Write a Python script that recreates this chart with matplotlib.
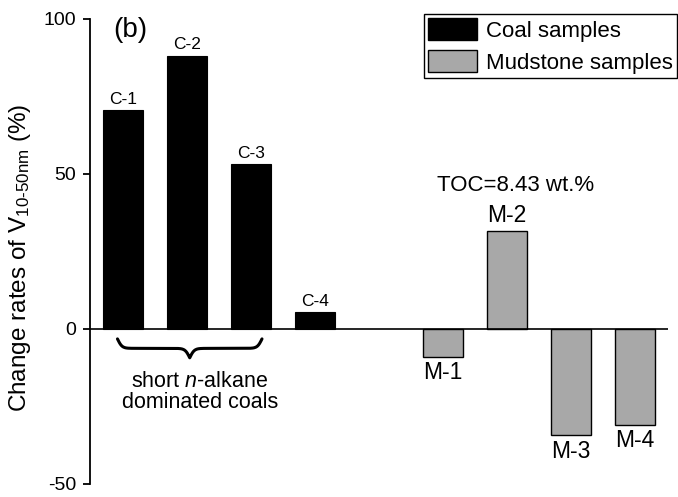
import numpy as np
import matplotlib.pyplot as plt
from matplotlib.patches import Patch

plt.rcParams['font.family'] = ['Liberation Sans', 'DejaVu Sans']
plt.rcParams['mathtext.fontset'] = 'custom'
plt.rcParams['mathtext.rm'] = 'Liberation Sans'
plt.rcParams['mathtext.it'] = 'Liberation Sans:italic'
plt.rcParams['axes.unicode_minus'] = False

# change rates of V(10-50nm) pore volume, %
coal_labels = ['C-1', 'C-2', 'C-3', 'C-4']
coal_values = [70.5, 88.2, 53.2, 5.6]
mud_labels = ['M-1', 'M-2', 'M-3', 'M-4']
mud_values = [-8.9, 31.7, -34.2, -30.9]
yticks = [-50, 0, 50, 100]

coal_x = np.arange(len(coal_values))
mud_x = np.arange(len(mud_values)) + len(coal_values) + 1
width = 0.62
grey = '#a8a8a8'

fig = plt.figure(figsize=(6.78, 4.97), dpi=100)
ax = fig.add_axes([0.1327, 0.0262, 0.8526, 0.9356])

ax.bar(coal_x, coal_values, width, color='black', edgecolor='black', linewidth=0.8)
ax.bar(mud_x, mud_values, width, color=grey, edgecolor='black', linewidth=1.0)
ax.axhline(0, color='black', lw=1.2, zorder=3)

for x, v, s in zip(coal_x, coal_values, coal_labels):
    ax.text(x, v + 1.0, s, ha='center', va='bottom', fontsize=12.5)
for x, v, s in zip(mud_x, mud_values, mud_labels):
    if v >= 0:
        ax.text(x, v + 1.2, s, ha='center', va='bottom', fontsize=16.5)
    else:
        ax.text(x, v - 1.5, s, ha='center', va='top', fontsize=16.5)

# TOC note over M-2
ax.text(mud_x[1] + 0.13, mud_values[1] + 14.5, 'TOC=8.43 wt.%', ha='center', va='center',
        fontsize=16)

# curly brace under the short n-alkane coals
def brace(x0, x1, ytop, depth, beta=28, n=301):
    xs = np.linspace(x0, x1, n)
    xh = xs[:n // 2 + 1]
    yh = (1 / (1 + np.exp(-beta * (xh - xh[0]))) +
          1 / (1 + np.exp(-beta * (xh - xh[-1]))))
    yy = np.concatenate((yh, yh[-2::-1]))
    return xs, ytop - (yy - 0.5) * depth

bx, by = brace(coal_x[0] - 0.09, coal_x[2] + 0.17, -3.2, 6.1)
ax.plot(bx, by, color='black', lw=2.2, solid_capstyle='round')
ax.text(1.2, -20.2, 'short $n$-alkane\ndominated coals', ha='center', va='center',
        fontsize=15.5, linespacing=1.0)

ax.text(0.069, 0.976, '(b)', transform=ax.transAxes, ha='center', va='center', fontsize=20)

ax.set_xlim(-0.52, 8.52)
ax.set_ylim(-50, 100)
ax.set_yticks(yticks)
ax.set_xticks([])
for side in ['top', 'right', 'bottom']:
    ax.spines[side].set_visible(False)
ax.spines['left'].set_linewidth(1.3)
ax.tick_params(axis='y', direction='out', length=5, width=1.3, pad=5, labelsize=14)
ax.set_ylabel(r'Change rates of V$_{\text{10-50nm}}$ (%)', fontsize=17.5)
ax.yaxis.set_label_coords(-0.098, 0.486)

handles = [Patch(facecolor='black', edgecolor='black', label='Coal samples'),
           Patch(facecolor=grey, edgecolor='black', label='Mudstone samples')]
leg = ax.legend(handles=handles, loc='upper right', bbox_to_anchor=(1.0156, 1.011),
                borderaxespad=0, fancybox=False, edgecolor='black', fontsize=16,
                handlelength=2.2, handleheight=1.1, handletextpad=0.4,
                labelspacing=0.4, borderpad=0.2, framealpha=1)
leg.get_frame().set_linewidth(1.0)

fig.savefig('out.png', dpi=100)
